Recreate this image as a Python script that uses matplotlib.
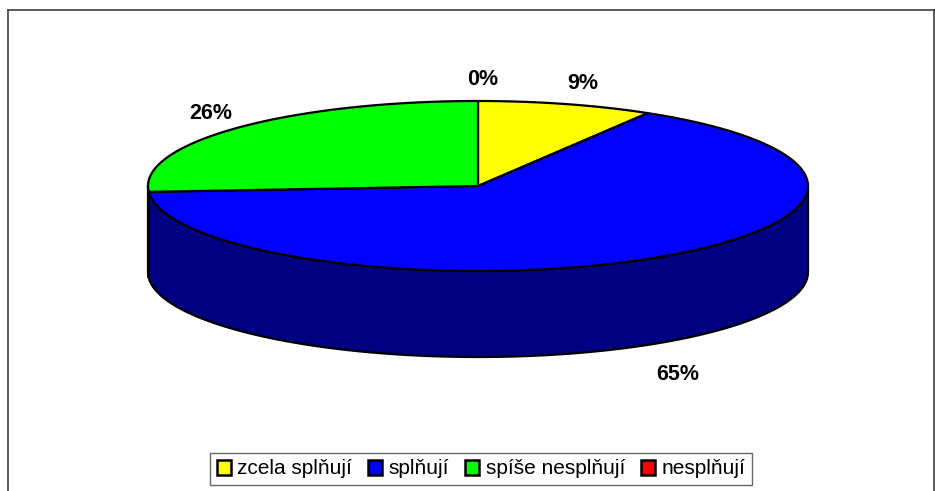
import numpy as np
import matplotlib
matplotlib.use("Agg")
import matplotlib.pyplot as plt
from matplotlib.patches import Polygon, Patch
from matplotlib.lines import Line2D

categories = ["zcela splňují", "splňují", "spíše nesplňují", "nesplňují"]
values = [8.6, 65.3, 26.1, 0]
labels = ["9%", "65%", "26%", "0%"]
top_colors = ["#FFFF00", "#0000FF", "#00FF00", "#FF0000"]
side_colors = ["#808000", "#000080", "#008000", "#800000"]

W, H = 935, 491
fig = plt.figure(figsize=(W / 100, H / 100), dpi=100)
ax = fig.add_axes([0, 0, 1, 1])
ax.set_xlim(0, W)
ax.set_ylim(H, 0)
ax.axis("off")

# outer chart border
for xs, ys in [([8, 934], [10, 10]), ([8, 8], [10, 495]), ([934, 934], [10, 495])]:
    ax.add_line(Line2D(xs, ys, color="#404040", lw=1.2))

cx, cy, rx, ry, depth = 478, 186, 330, 85, 86
lw = 1.6

def pt(t, dz=0.0):
    t = np.radians(t)
    return np.column_stack([cx + rx * np.cos(t), cy - ry * np.sin(t) + dz])

total = float(sum(values))
cum = np.concatenate([[0], np.cumsum(values)])
angles = [(90 - cum[i] * 360 / total, 90 - cum[i + 1] * 360 / total) for i in range(len(values))]

# side walls (front half: angles between -180 and 0)
for i, (t1, t2) in enumerate(angles):
    if values[i] == 0:
        continue
    a = max(t2, -180)
    b = min(t1, 0)
    if a < b:
        ts = np.linspace(b, a, 200)
        top = pt(ts)
        bot = pt(ts[::-1], depth)
        poly = np.vstack([top, bot])
        ax.add_patch(Polygon(poly, closed=True, facecolor=side_colors[i],
                             edgecolor="black", lw=lw, joinstyle="round"))

# top faces
for i, (t1, t2) in enumerate(angles):
    if values[i] == 0:
        continue
    ts = np.linspace(t1, t2, 300)
    poly = np.vstack([[[cx, cy]], pt(ts)])
    ax.add_patch(Polygon(poly, closed=True, facecolor=top_colors[i],
                         edgecolor="black", lw=lw, joinstyle="round"))

# labels
for i, (t1, t2) in enumerate(angles):
    m = np.radians((t1 + t2) / 2)
    x = cx + rx * 1.13 * np.cos(m) + 5
    y = cy - ry * 1.25 * np.sin(m)
    if np.sin(m) < -0.01:
        y += depth + 12
    ax.text(x, y, labels[i], ha="center", va="center", fontsize=15.5,
            fontweight="bold", family="Liberation Sans")

handles = [Patch(facecolor=c, edgecolor="black", lw=1.8) for c in top_colors]
leg = fig.legend(handles, categories, loc="center", bbox_to_anchor=(481 / W, 1 - 469 / H),
                 ncol=4, frameon=True, fancybox=False, handlelength=0.7, handleheight=0.7,
                 handletextpad=0.3, columnspacing=0.75, borderpad=0.3,
                 prop={"family": "Liberation Sans", "size": 15})
leg.get_frame().set_edgecolor("#404040")
leg.get_frame().set_linewidth(1.0)

fig.savefig("out.png", dpi=100)
